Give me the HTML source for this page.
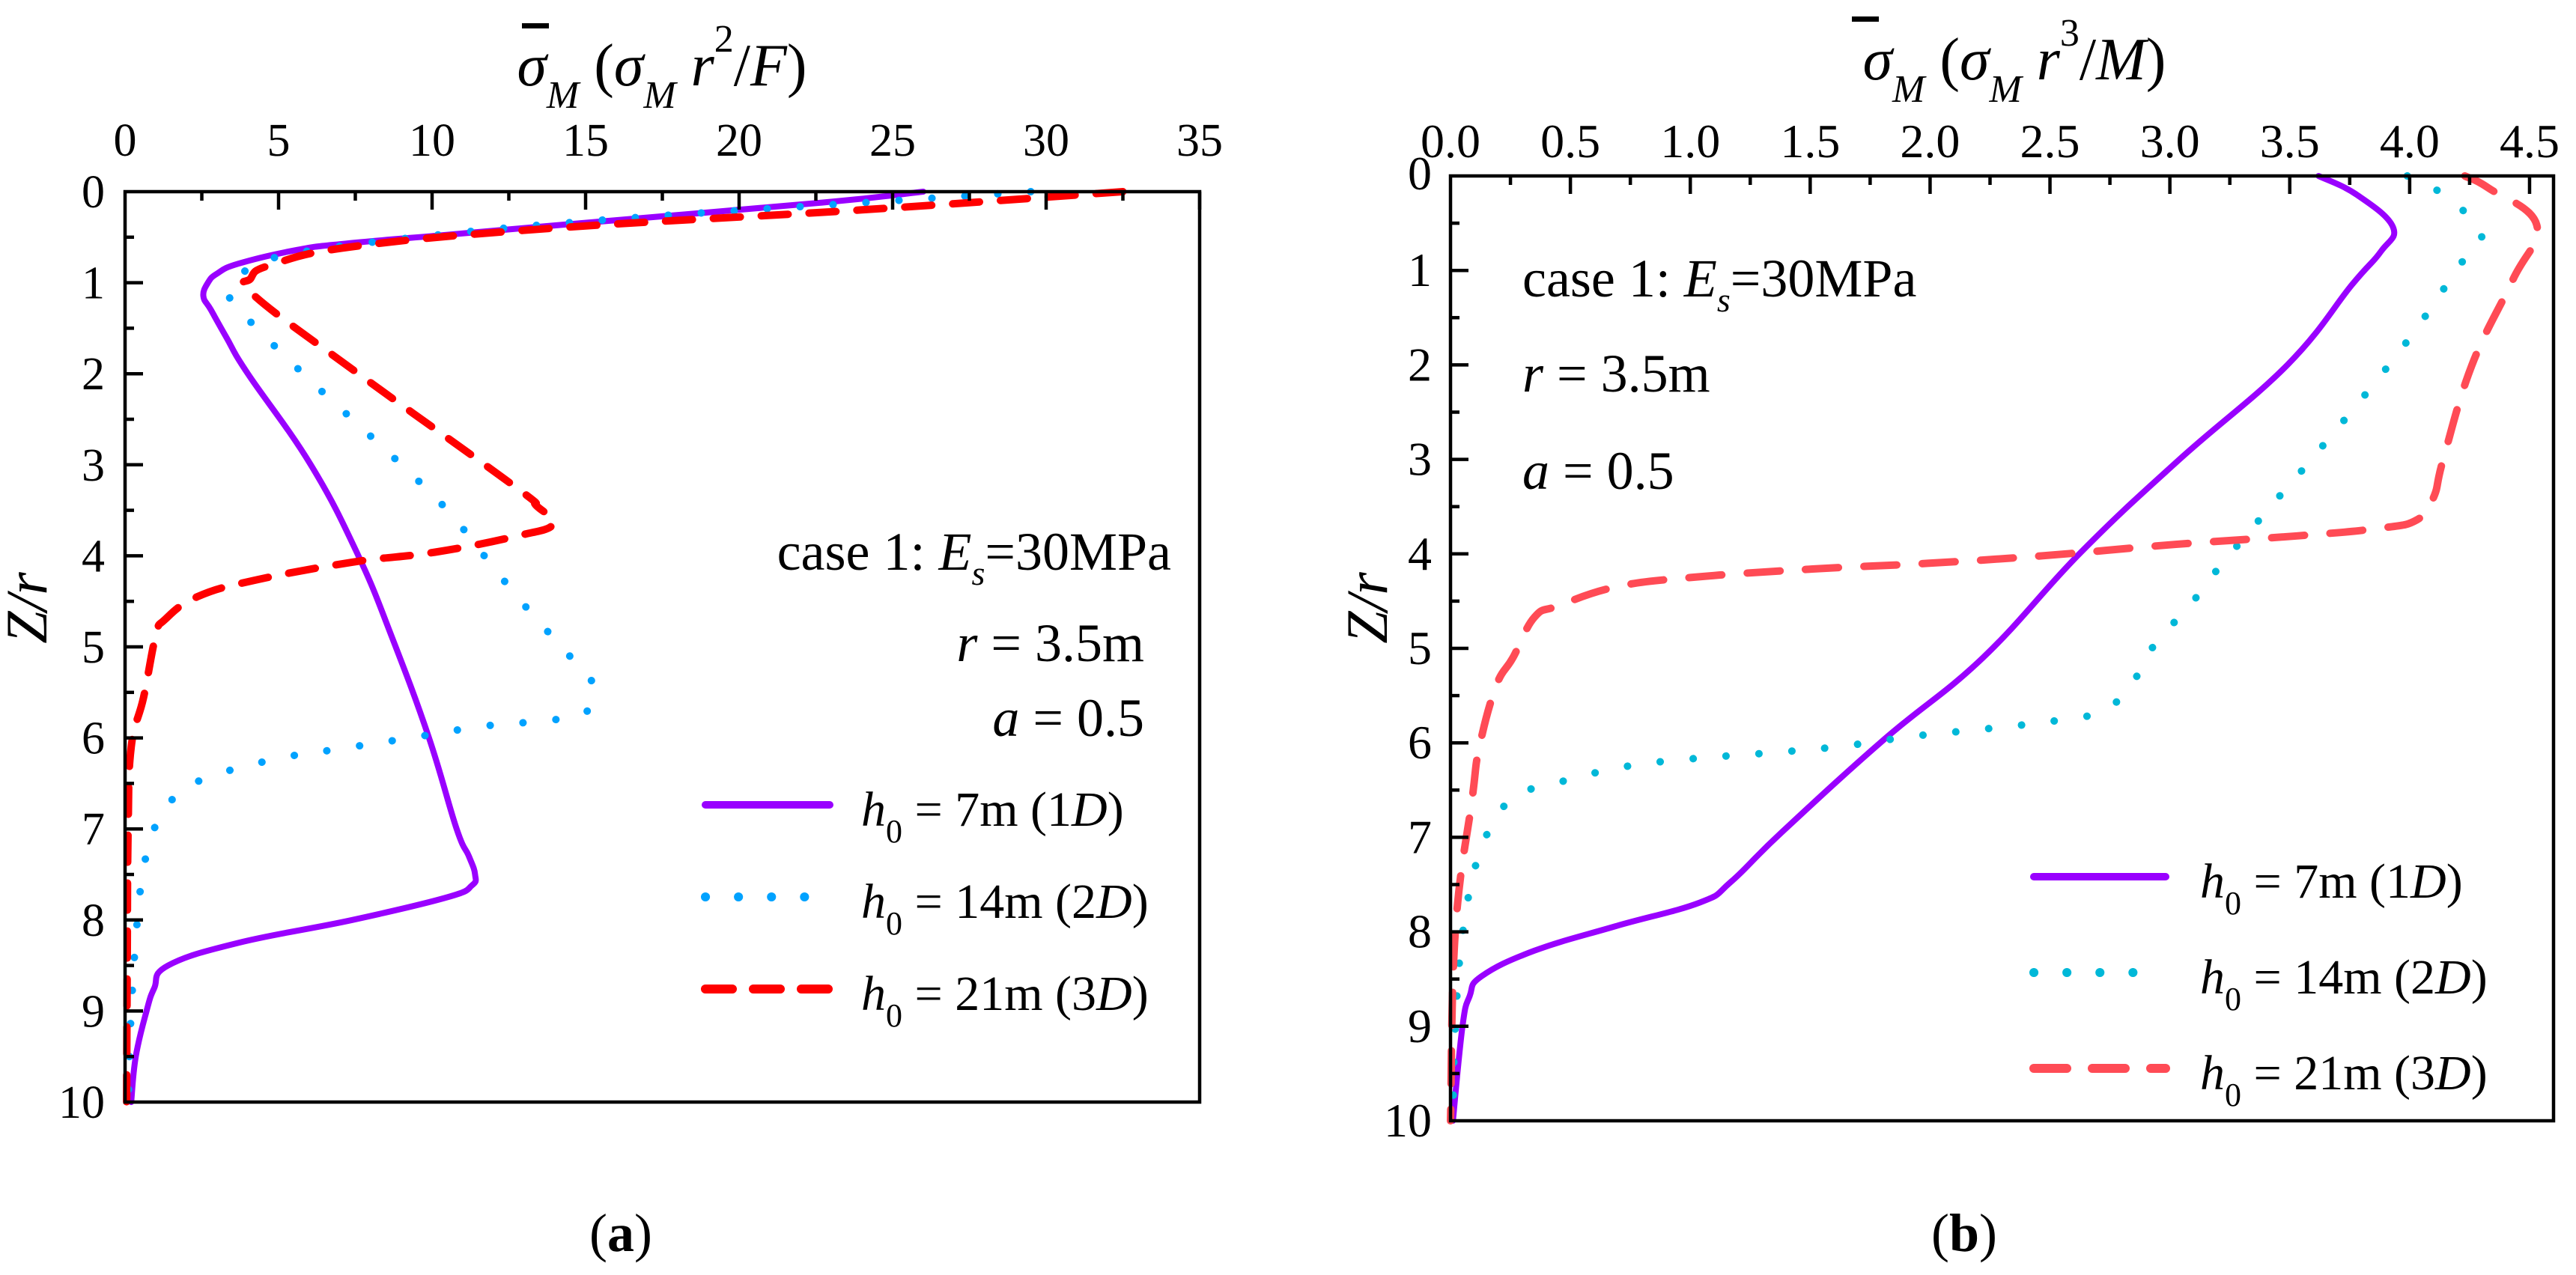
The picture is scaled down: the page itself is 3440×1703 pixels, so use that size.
<!DOCTYPE html>
<html><head><meta charset="utf-8"><style>
html,body{margin:0;padding:0;background:#fff;}
svg{display:block;font-family:"Liberation Serif","DejaVu Serif",serif;}
</style></head><body>
<svg id="chart" width="3440" height="1703" viewBox="0 0 3440 1703" xmlns="http://www.w3.org/2000/svg">
<rect width="3440" height="1703" fill="#fff"/>
<g id="pa"></g>
<g id="pb"></g>

<text x="884" y="114" font-size="80" text-anchor="middle"><tspan font-style="italic">σ</tspan><tspan font-style="italic" font-size="52" dy="30">M</tspan><tspan dy="-30"> (</tspan><tspan font-style="italic">σ</tspan><tspan font-style="italic" font-size="52" dy="30">M</tspan><tspan dy="-30" font-style="italic"> r</tspan><tspan font-size="52" dy="-45">2</tspan><tspan dy="45">/</tspan><tspan font-style="italic">F</tspan><tspan>)</tspan></text>
<rect x="697" y="31" width="36" height="7" fill="#000"/>
<text transform="translate(62,812) rotate(-90)" font-size="78" text-anchor="middle" font-style="italic">Z/r</text>
<text x="1564" y="761" font-size="72" text-anchor="end">case 1: <tspan font-style="italic">E</tspan><tspan font-style="italic" font-size="46" dy="20">s</tspan><tspan dy="-20">=30MPa</tspan></text>
<text x="1528" y="883" font-size="72" text-anchor="end"><tspan font-style="italic">r</tspan> = 3.5m</text>
<text x="1528" y="983" font-size="72" text-anchor="end"><tspan font-style="italic">a</tspan> = 0.5</text>
<text x="829" y="1671" font-size="72" text-anchor="middle">(<tspan font-weight="bold">a</tspan>)</text>

<text x="2690" y="106" font-size="80" text-anchor="middle"><tspan font-style="italic">σ</tspan><tspan font-style="italic" font-size="52" dy="30">M</tspan><tspan dy="-30"> (</tspan><tspan font-style="italic">σ</tspan><tspan font-style="italic" font-size="52" dy="30">M</tspan><tspan dy="-30" font-style="italic"> r</tspan><tspan font-size="52" dy="-45">3</tspan><tspan dy="45">/</tspan><tspan font-style="italic">M</tspan><tspan>)</tspan></text>
<rect x="2473" y="22" width="36" height="7" fill="#000"/>
<text transform="translate(1852,812) rotate(-90)" font-size="78" text-anchor="middle" font-style="italic">Z/r</text>
<text x="2033" y="396" font-size="72">case 1: <tspan font-style="italic">E</tspan><tspan font-style="italic" font-size="46" dy="20">s</tspan><tspan dy="-20">=30MPa</tspan></text>
<text x="2033" y="523" font-size="72"><tspan font-style="italic">r</tspan> = 3.5m</text>
<text x="2033" y="653" font-size="72"><tspan font-style="italic">a</tspan> = 0.5</text>
<text x="2623" y="1671" font-size="72" text-anchor="middle">(<tspan font-weight="bold">b</tspan>)</text>
</svg>
<script>
const zA1 = [0,0.12,0.35,0.47,0.57,0.64,0.79,0.9,1.0,1.15,1.3,1.6,2.0,3.0,4.0,4.9,6.0,7.0,7.3,7.5,7.62,7.75,8.0,8.25,8.5,8.75,9.0,9.5,10];
const vA1 = [26,22.7,14.7,10.6,7.2,5.6,3.7,3.0,2.7,2.55,2.8,3.3,4.0,6.05,7.6,8.7,9.9,10.8,11.2,11.4,11.3,10.5,7.4,3.7,1.4,0.95,0.7,0.35,0.2];
const zA2 = [0,0.1,0.3,0.5,0.7,0.9,1.15,1.4,2.0,2.5,3.0,3.5,4.0,4.5,5.07,5.38,5.69,5.8,5.87,6.0,6.12,6.24,6.46,6.69,7.04,7.45,8,9,10];
const vA2 = [29.5,25,16,9.5,5.2,3.8,3.4,4.0,5.8,7.4,9.0,10.5,11.7,12.9,14.4,15.2,15.1,14.0,11.7,9.3,7.0,4.8,2.5,1.5,0.9,0.6,0.4,0.2,0.1];
const zA3 = [0,0.2,0.4,0.6,0.8,0.95,1.14,2.0,3.24,3.45,3.65,3.78,3.96,4.07,4.27,4.45,4.7,4.88,5.56,6.1,7,8.5,10];
const vA3 = [32.5,24,14,7.5,4.8,4.1,4.2,7.6,12.7,13.4,13.95,12.8,10.1,7.4,4.2,2.35,1.3,1.0,0.6,0.2,0.1,0.07,0.05];
const xTicksA = [0,5,10,15,20,25,30,35];
const yTicks = [0,1,2,3,4,5,6,7,8,9,10];
const zB1 = [0,0.2,0.54,0.8,1.15,2.0,3.0,3.98,5.1,5.96,6.95,7.47,7.69,7.94,8.2,8.47,8.68,9.0,10];
const vB1 = [3.62,3.78,3.93,3.88,3.76,3.49,3.04,2.63,2.22,1.81,1.38,1.17,1.04,0.69,0.35,0.13,0.08,0.05,0.01];
const zB2 = [0,0.2,0.63,0.99,1.32,1.98,2.91,3.5,4.16,4.46,5.05,5.39,5.66,5.76,5.85,5.93,6.04,6.11,6.17,6.26,6.44,6.56,6.85,7.25,8.03,9,10];
const vB2 = [3.99,4.14,4.30,4.19,4.11,3.92,3.62,3.42,3.2,3.11,2.91,2.84,2.72,2.54,2.24,1.93,1.62,1.31,1.0,0.71,0.42,0.27,0.18,0.11,0.05,0.02,0.01];
const zB3 = [0,0.13,0.52,1.1,2.0,3.0,3.4,3.64,3.73,3.81,3.9,4.02,4.1,4.16,4.25,4.35,4.55,4.67,5.1,5.4,6.05,6.6,8,10];
const vB3 = [4.23,4.33,4.53,4.43,4.26,4.14,4.1,4.03,3.87,3.53,3.02,2.47,1.99,1.51,1.0,0.69,0.45,0.35,0.26,0.19,0.12,0.09,0.02,0.0];
const xTicksB = ["0.0","0.5","1.0","1.5","2.0","2.5","3.0","3.5","4.0","4.5"];

const NS = "http://www.w3.org/2000/svg";
function mk(parent, tag, attrs){const e=document.createElementNS(NS,tag);for(const k in attrs)e.setAttribute(k,attrs[k]);parent.appendChild(e);return e;}
function smooth(pts){
  let d='M'+pts[0][0].toFixed(1)+' '+pts[0][1].toFixed(1);
  for(let i=0;i<pts.length-1;i++){
    const p0=pts[Math.max(0,i-1)],p1=pts[i],p2=pts[i+1],p3=pts[Math.min(pts.length-1,i+2)];
    const t=0.2;
    const c1=[p1[0]+(p2[0]-p0[0])*t,p1[1]+(p2[1]-p0[1])*t];
    const c2=[p2[0]-(p3[0]-p1[0])*t,p2[1]-(p3[1]-p1[1])*t];
    d+=' C'+c1[0].toFixed(1)+' '+c1[1].toFixed(1)+' '+c2[0].toFixed(1)+' '+c2[1].toFixed(1)+' '+p2[0].toFixed(1)+' '+p2[1].toFixed(1);
  }
  return d;
}

function panel(g, cfg){
  const sx = v => cfg.x0 + (v - cfg.xmin) / (cfg.xmax - cfg.xmin) * (cfg.x1 - cfg.x0);
  const sy = z => cfg.y0 + z / 10 * (cfg.y1 - cfg.y0);
  cfg.series.forEach(s=>{
    const pts = s.z.map((z,i)=>[sx(s.v[i]), sy(z)]);
    const p = mk(g,'path',{d:smooth(pts),fill:'none',stroke:s.color,'stroke-width':s.w,'stroke-linejoin':'round','stroke-linecap':'round'});
    if(s.dash) p.setAttribute('stroke-dasharray', s.dash);
    
    
  });
  const fr = mk(g,'rect',{x:cfg.x0,y:cfg.y0,width:cfg.x1-cfg.x0,height:cfg.y1-cfg.y0,fill:'none',stroke:'#000','stroke-width':4.5});
  
  
  const xt = mk(g,'g',{});
  
  
  cfg.xTicks.forEach((lab,i)=>{
    const v = parseFloat(lab);
    const x = sx(v);
    if(i>0) mk(xt,'line',{x1:x,y1:cfg.y0,x2:x,y2:cfg.y0+24,stroke:'#000','stroke-width':4.5});
    const mv = v + cfg.xMinor;
    if(mv < cfg.xmax) mk(xt,'line',{x1:sx(mv),y1:cfg.y0,x2:sx(mv),y2:cfg.y0+12,stroke:'#000','stroke-width':4.5});
    const t = mk(xt,'text',{x:x,y:cfg.xLabY,'font-size':cfg.fs,'text-anchor':'middle'});
    t.textContent = lab;
    
    
  });
  const yt = mk(g,'g',{});
  
  
  yTicks.forEach(z=>{
    const y = sy(z);
    if(z>0 && z<10) mk(yt,'line',{x1:cfg.x0,y1:y,x2:cfg.x0+24,y2:y,stroke:'#000','stroke-width':4.5});
    if(z<10) mk(yt,'line',{x1:cfg.x0,y1:sy(z+0.5),x2:cfg.x0+12,y2:sy(z+0.5),stroke:'#000','stroke-width':4.5});
    const t = mk(yt,'text',{x:cfg.yLabX,y:y+(z===0?cfg.y0Off:21),'font-size':cfg.fs,'text-anchor':'end'});
    t.textContent = String(z);
    
    
  });
  cfg.series.forEach((s,i)=>{
    const lg = mk(g,'g',{});
    
    
    const ly = cfg.legY[i];
    const ln = mk(lg,'line',{x1:cfg.legX0,y1:ly,x2:cfg.legX1,y2:ly,stroke:s.color,'stroke-width':s.w+2,'stroke-linecap':'round'});
    if(s.dash) ln.setAttribute('stroke-dasharray', s.dash);
    const t = mk(lg,'text',{x:cfg.legTX,y:ly+28,'font-size':66});
    t.innerHTML = '<tspan font-style="italic">h</tspan><tspan font-size="44" dy="22">0</tspan><tspan dy="-22"> = '+s.lab+' (</tspan><tspan>'+s.lab2+'</tspan><tspan font-style="italic">D</tspan><tspan>)</tspan>';
  });
}

panel(document.getElementById('pa'), {
  x0:167,x1:1602,y0:256,y1:1472,xmin:0,xmax:35,xMinor:2.5,fs:62,xLabY:208,yLabX:140,y0Off:21,
  xTicks:xTicksA.map(String),
  legX0:942,legX1:1108,legTX:1150,legY:[1075,1198,1321],
  series:[
    {name:'series-h0-7m',z:zA1,v:vA1,color:'#9900ff',w:8,dash:null,lab:'7m',lab2:'1'},
    {name:'series-h0-14m',z:zA2,v:vA2,color:'#00a2ff',w:10,dash:'0.1 44',lab:'14m',lab2:'2'},
    {name:'series-h0-21m',z:zA3,v:vA3,color:'#ff0000',w:10,dash:'36 28',lab:'21m',lab2:'3'}
  ]
});
panel(document.getElementById('pb'), {
  x0:1937,x1:3410,y0:235,y1:1497,xmin:0,xmax:4.6,xMinor:0.25,fs:64,xLabY:210,yLabX:1912,y0Off:18,
  xTicks:xTicksB,
  legX0:2716,legX1:2892,legTX:2938,legY:[1171,1299,1427],
  series:[
    {name:'series-h0-7m',z:zB1,v:vB1,color:'#9900ff',w:8,dash:null,lab:'7m',lab2:'1'},
    {name:'series-h0-14m',z:zB2,v:vB2,color:'#00b8d8',w:10,dash:'0.1 44',lab:'14m',lab2:'2'},
    {name:'series-h0-21m',z:zB3,v:vB3,color:'#ff4b55',w:10,dash:'44 34',lab:'21m',lab2:'3'}
  ]
});
</script>
</body></html>
